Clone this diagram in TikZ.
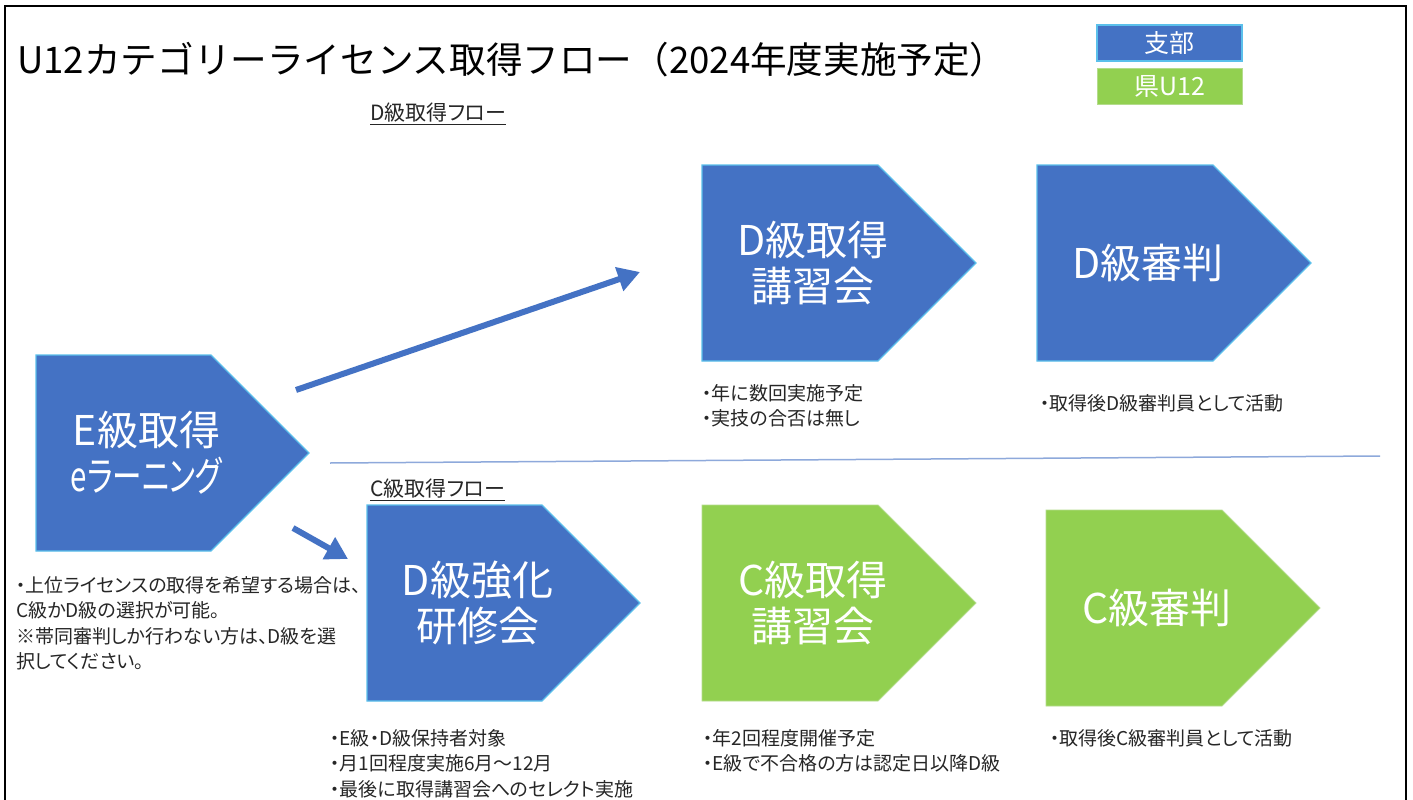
\documentclass[tikz,border=0pt]{standalone}
\usepackage{fontspec}
\newfontfamily\jp{Noto Sans CJK JP}
\newfontfamily\jpp[RawFeature=+palt]{Noto Sans CJK JP}
\usetikzlibrary{arrows.meta,calc}
\definecolor{bluef}{HTML}{4472C4}
\definecolor{bluee}{HTML}{5BC0EB}
\definecolor{greenf}{HTML}{92D050}
\definecolor{greene}{HTML}{B4DC8C}
\definecolor{sepc}{HTML}{8EA9DB}
\definecolor{txtc}{HTML}{262626}
\tikzset{
  pentblue/.style={fill=bluef,draw=bluee,line width=1.2pt},
  pentgreen/.style={fill=greenf,draw=greene,line width=0.8pt},
  shtxt/.style={text=white,font=\jpp\fontsize{41}{46}\selectfont,align=center,inner sep=0pt},
  note/.style={text=txtc,font=\jpp\fontsize{19}{25.5}\selectfont,align=left,anchor=north west,inner sep=0pt},
  sect/.style={text=txtc,font=\jpp\fontsize{21}{24}\selectfont,anchor=west,inner sep=0pt},
  legbox/.style={minimum width=145pt,minimum height=36pt,inner sep=0pt,text=white,font=\jp\fontsize{25}{30}\selectfont},
  flowarrow/.style={draw=bluef,line width=6pt,-{Triangle[length=22pt,width=24pt]}},
}
\newcommand\pentshape[5]{%
  \path[#1] (#3,#4) -- (#3+#5-98,#4) -- (#3+#5,#4+98) -- (#3+#5-98,#4+196) -- (#3,#4+196) -- cycle;
  \coordinate (#2) at (#3+0.405*#5,#4+98);
}
\begin{document}
\begin{tikzpicture}[x=1pt,y=-1pt]
\useasboundingbox (0,0) rectangle (1413,800);
\clip (0,0) rectangle (1413,800);
\fill[white] (0,0) rectangle (1413,800);
% frame
\draw[line width=2.2pt,black] (5,6) rectangle (1406,840);
% title
\node[anchor=west,inner sep=0pt,font=\jp\fontsize{36.6}{40}\selectfont,text=black] (title) at (17,60) {U12カテゴリーライセンス取得フロー（2024年度実施予定）};
% legend
\node[legbox,fill=bluef,draw=bluee,line width=1.2pt] (legA) at (1169.5,43) {支部};
\node[legbox,fill=greenf,draw=greene,line width=0.8pt] (legB) at (1169.5,86) {県U12};
% section labels
\node[sect] (secD) at (370,114) {\underline{D級取得フロー}};
\node[sect] (secC) at (370,490) {\underline{C級取得フロー}};
% separator
\coordinate (sepL) at (330,463);
\coordinate (sepR) at (1380,456);
\draw[sepc,line width=1.5pt] (sepL) -- (sepR);
% shapes
\pentshape{pentblue}{ecen}{36}{355}{273}
\pentshape{pentblue}{dkcen}{702}{165}{274}
\pentshape{pentblue}{dscen}{1037}{165}{274}
\pentshape{pentblue}{dxcen}{367}{505}{273}
\pentshape{pentgreen}{ckcen}{702}{505}{274}
\pentshape{pentgreen}{cscen}{1046}{510}{274}
\node[shtxt] (tE) at (ecen) {E級取得\\\scalebox{0.72}[1]{eラーニング}};
\node[shtxt] (tDK) at (dkcen) {D級取得\\講習会};
\node[shtxt] (tDS) at (dscen) {D級審判};
\node[shtxt] (tDX) at (dxcen) {D級強化\\研修会};
\node[shtxt] (tCK) at (ckcen) {C級取得\\講習会};
\node[shtxt] (tCS) at (cscen) {C級審判};
% arrows
\coordinate (a1s) at (296,390);
\coordinate (a1e) at (640,272);
\coordinate (a2s) at (293,528);
\coordinate (a2e) at (348,559);
\draw[flowarrow] (a1s) -- (a1e);
\draw[flowarrow] (a2s) -- (a2e);
% notes
\node[note] (nE) at (16,576) {・上位ライセンスの取得を希望する場合は、\\C級かD級の選択が可能。\\※帯同審判しか行わない方は、D級を選\\択してください。};
\node[note] (nDK) at (702,384) {・年に数回実施予定\\・実技の合否は無し};
\node[note] (nDS) at (1040,394) {・取得後D級審判員として活動};
\node[note] (nDX) at (330,729) {・E級・D級保持者対象\\・月1回程度実施6月～12月\\・最後に取得講習会へのセレクト実施};
\node[note] (nCK) at (703,729) {・年2回程度開催予定\\・E級で不合格の方は認定日以降D級};
\node[note] (nCS) at (1050,729) {・取得後C級審判員として活動};
\end{tikzpicture}
\end{document}
